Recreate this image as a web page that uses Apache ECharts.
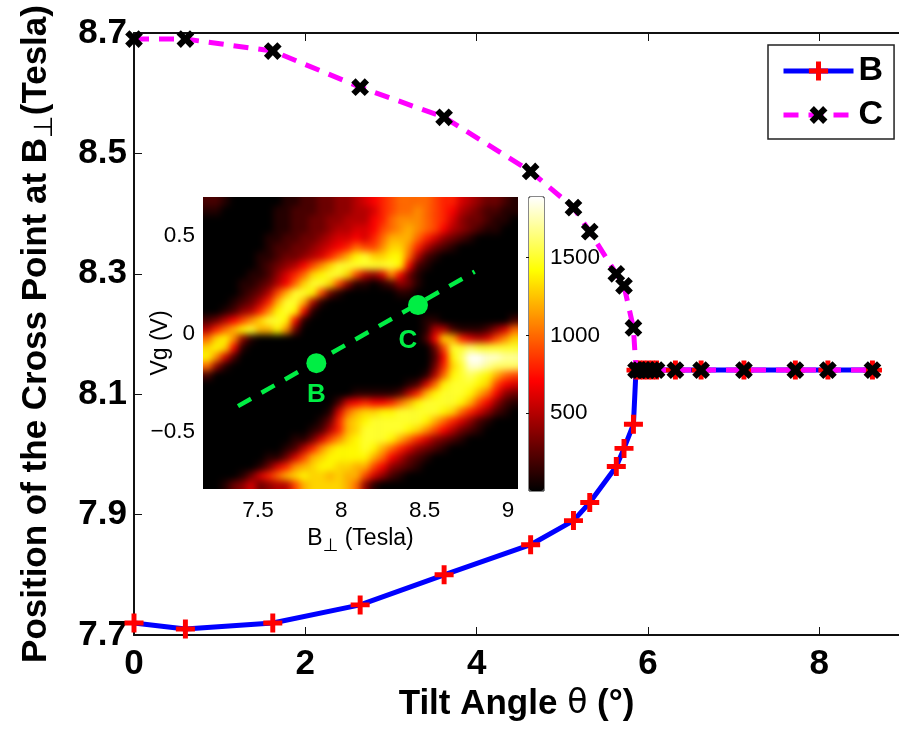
<!DOCTYPE html>
<html><head><meta charset="utf-8">
<style>html,body{margin:0;padding:0;background:#fff}
#c{position:absolute;left:0;top:0;width:899px;height:729px;z-index:2}
#clip{position:absolute;left:203px;top:197px;width:315px;height:292px;overflow:hidden;z-index:1;background:#000}
#h{position:absolute;filter:blur(3.5px)}</style>
<script src="https://cdn.jsdelivr.net/npm/echarts@6/dist/echarts.min.js"></script>
</head><body><div id="clip"><div id="h"></div></div><div id="c"></div>
<script>
const angleB=[0,0.6,1.62,2.64,3.62,4.63,5.13,5.32,5.63,5.72,5.83,5.86,5.9,5.95,6.0,6.05,6.1,6.32,6.62,7.12,7.72,8.1,8.62];
const valueB=[7.72,7.71,7.72,7.75,7.80,7.85,7.89,7.92,7.98,8.01,8.05,8.14,8.14,8.14,8.14,8.14,8.14,8.14,8.14,8.14,8.14,8.14,8.14];
const angleC=[0,0.6,1.62,2.64,3.62,4.63,5.13,5.32,5.63,5.72,5.83,5.86,5.9,5.95,6.0,6.05,6.1,6.32,6.62,7.12,7.72,8.1,8.62];
const valueC=[8.69,8.69,8.67,8.61,8.56,8.47,8.41,8.37,8.30,8.28,8.21,8.14,8.14,8.14,8.14,8.14,8.14,8.14,8.14,8.14,8.14,8.14,8.14];
const mainXTicks=[0,2,4,6,8];
const mainYTicks=[7.7,7.9,8.1,8.3,8.5,8.7];
const insetXTicks=[7.5,8,8.5,9];
const insetYTicks=[-0.5,0,0.5];
const barTicks=[500,1000,1500];
const cutLineX=[7.38,8.80];
const cutLineY=[-0.37,0.318];
const pointB=[7.85,-0.15];
const pointC=[8.46,0.147];
// inset map, read by eye, in hundreds of counts, top row first
const heatRows=[
[2,2,1,0,0,0,0,0,0,1,1,2,2,3,3,4,4,5,6,7,8,9,10,10,10,10,9,8,8,6,5,4,3,3,2,1],
[1,1,0,0,0,0,0,0,1,1,2,2,2,3,3,4,4,5,5,6,8,9,10,10,11,10,9,8,7,5,4,3,2,2,1,1],
[0,0,0,0,0,0,0,0,1,1,2,2,3,3,4,4,5,5,5,7,8,10,11,11,11,10,9,8,6,4,3,3,2,1,1,0],
[0,0,0,0,0,0,0,0,1,1,2,2,3,3,4,5,5,6,6,7,9,10,11,12,11,10,9,7,5,4,3,2,1,1,0,0],
[0,0,0,0,0,0,0,1,1,2,2,3,3,4,5,6,6,7,6,8,10,12,12,12,10,8,6,4,3,2,1,0,0,0,0,0],
[0,0,0,0,0,0,0,1,2,2,3,3,4,5,6,7,8,10,9,9,11,13,13,11,8,5,3,2,1,0,0,0,0,0,0,0],
[0,0,0,0,0,0,1,1,2,3,3,4,5,6,8,10,12,14,15,13,13,14,14,10,5,2,1,0,0,0,0,0,0,0,0,0],
[0,0,0,0,0,0,1,2,3,4,5,7,9,11,13,15,15,15,15,15,15,15,14,7,2,1,0,0,0,0,0,0,0,0,0,0],
[0,0,0,0,0,1,1,2,4,6,8,10,13,14,15,15,13,9,5,4,6,11,7,3,1,0,0,0,0,0,0,0,0,0,0,0],
[0,0,0,0,1,1,2,3,5,7,10,13,15,15,13,9,4,1,1,0,1,2,4,3,1,0,0,0,0,0,0,0,0,0,0,0],
[0,0,0,0,1,2,3,5,9,12,15,15,14,9,3,1,0,0,0,0,0,0,1,1,0,0,0,0,0,0,0,0,0,0,0,0],
[0,0,0,1,2,3,5,8,12,15,15,12,5,1,0,0,0,0,0,0,0,0,0,0,0,0,0,0,0,0,0,0,0,0,0,0],
[0,0,1,2,4,5,8,11,14,15,14,7,1,0,0,0,0,0,0,0,0,0,0,0,0,0,0,0,0,0,0,0,0,0,0,0],
[2,3,5,7,9,11,13,15,15,14,7,1,0,0,0,0,0,0,0,0,0,0,0,0,0,1,1,0,0,0,0,0,0,0,0,2],
[5,8,10,12,14,15,12,12,14,11,3,0,0,0,0,0,0,0,0,0,0,0,0,0,0,1,5,5,2,1,1,1,2,4,6,10],
[10,13,14,11,4,1,0,0,0,0,0,0,0,0,0,0,0,0,0,0,0,0,0,0,0,2,7,13,12,8,6,5,6,9,11,13],
[13,14,13,7,1,0,0,0,0,0,0,0,0,0,0,0,0,0,0,0,0,0,0,0,0,0,3,9,15,15,16,15,15,15,15,15],
[14,11,6,2,0,0,0,0,0,0,0,0,0,0,0,0,0,0,0,0,0,0,0,0,0,0,2,7,14,16,19,19,18,18,17,17],
[10,4,1,0,0,0,0,0,0,0,0,0,0,0,0,0,0,0,0,0,0,0,0,0,0,0,3,8,13,15,18,18,17,16,16,16],
[2,0,0,0,0,0,0,0,0,0,0,0,0,0,0,0,0,0,0,0,0,0,0,0,0,1,5,10,14,15,16,15,14,12,10,9],
[0,0,0,0,0,0,0,0,0,0,0,0,0,0,0,0,0,0,0,0,0,0,0,1,2,6,10,14,15,15,15,14,13,9,7,6],
[0,0,0,0,0,0,0,0,0,0,0,0,0,0,0,0,0,1,1,1,1,1,2,5,8,12,14,15,15,15,14,12,10,7,4,3],
[0,0,0,0,0,0,0,0,0,0,0,0,0,0,0,2,6,7,8,7,7,8,10,12,14,15,15,15,15,14,12,9,7,4,2,1],
[0,0,0,0,0,0,0,0,0,0,0,0,0,0,1,6,10,12,13,13,14,14,15,15,15,15,15,14,13,10,8,6,4,2,1,0],
[0,0,0,0,0,0,0,0,0,0,0,0,0,1,3,8,12,13,14,15,15,15,15,15,15,14,12,10,8,6,4,2,1,0,0,0],
[0,0,0,0,0,0,0,0,0,0,0,0,1,2,5,8,12,13,15,15,15,15,15,14,13,11,9,7,5,3,2,1,0,0,0,0],
[0,0,0,0,0,0,0,0,0,0,1,1,3,6,9,11,13,14,15,15,15,14,12,10,8,6,4,3,2,1,0,0,0,0,0,0],
[0,0,0,0,0,0,0,0,0,1,2,5,8,11,13,14,14,14,15,14,12,10,8,6,4,3,2,1,0,0,0,0,0,0,0,0],
[0,0,0,0,0,0,0,1,1,3,6,9,12,13,14,14,14,14,14,12,10,7,5,3,2,1,0,0,0,0,0,0,0,0,0,0],
[0,0,0,0,0,0,1,3,6,8,11,12,13,14,14,13,13,12,12,9,7,4,3,2,1,0,0,0,0,0,0,0,0,0,0,0],
[0,0,0,0,1,3,6,8,10,12,13,14,13,13,12,13,12,12,9,6,4,2,1,0,0,0,0,0,0,0,0,0,0,0,0,0],
[0,0,1,3,4,6,3,4,5,5,9,12,13,13,13,13,12,10,4,1,0,0,0,0,0,0,0,0,0,0,0,0,0,0,0,0]
];
const hotColors=['#000000','#550000','#aa0000','#ff0000','#ff5500','#ffaa00','#ffff00','#ffff80','#ffffff'];
const BAR_MAX=1890;
const zip=(a,b)=>a.map((v,i)=>[v,b[i]]);
const PLUS='path://M3.7,0H6.3V3.7H10V6.3H6.3V10H3.7V6.3H0V3.7H3.7Z';
const CROSS='path://M3.4,0H6.6V3.4H10V6.6H6.6V10H3.4V6.6H0V3.4H3.4Z';
const FONT='"Liberation Sans",Arial,sans-serif';
const GREEN='#00ee44';

const PAD=2, nc=heatRows[0].length, nr=heatRows.length;
const cw=315/nc, ch=292/nr;
const heatData=[];
const clampI=(v,n)=>Math.max(0,Math.min(n-1,v));
for(let i=-PAD;i<nr+PAD;i++)for(let j=-PAD;j<nc+PAD;j++)heatData.push([j+PAD,i+PAD,heatRows[clampI(i,nr)][clampI(j,nc)]*100]);
const hDom=document.getElementById('h');
hDom.style.cssText+=`left:${-PAD*cw}px;top:${-PAD*ch}px;width:${315+2*PAD*cw}px;height:${292+2*PAD*ch}px`;
const heat=echarts.init(hDom,null,{renderer:'canvas'});
heat.setOption({animation:false,grid:{left:0,top:0,right:0,bottom:0,outerBoundsMode:'none'},
 xAxis:{type:'category',data:Array.from({length:nc+2*PAD},(_,k)=>k),show:false},
 yAxis:{type:'category',data:Array.from({length:nr+2*PAD},(_,k)=>k),inverse:true,show:false},
 visualMap:{show:false,min:0,max:BAR_MAX,inRange:{color:hotColors}},
 series:[{type:'heatmap',data:heatData,silent:true,progressive:0}]});

const chart=echarts.init(document.getElementById('c'),null,{renderer:'canvas'});
const mainLine={show:true,lineStyle:{color:'#111',width:2}};
chart.setOption({
 animation:false,
 textStyle:{fontFamily:FONT},
 grid:[
  {left:134,top:33,width:765,height:602,outerBoundsMode:'none'},
  {left:203,top:197,width:315,height:292,outerBoundsMode:'none'},
  {left:529,top:197,width:15,height:294,show:true,borderColor:'#111',borderWidth:1,outerBoundsMode:'none'}
 ],
 xAxis:[
  {gridIndex:0,type:'value',min:0,max:8.93,splitLine:{show:false},
   axisLine:mainLine,axisTick:{inside:true,length:8,customValues:mainXTicks,lineStyle:{color:'#111',width:1}},
   axisLabel:{customValues:mainXTicks,color:'#000',fontSize:35,fontWeight:'bold',margin:12,fontFamily:FONT},
   name:'{a|Tilt Angle }{t|θ}{a| (°)}',nameLocation:'middle',nameGap:52,nameMoveOverlap:false,
   nameTextStyle:{rich:{a:{fontSize:35,fontWeight:'bold',color:'#000',fontFamily:FONT},t:{fontSize:33,color:'#000',fontFamily:'"DejaVu Sans"'}}}},
  {gridIndex:0,type:'value',position:'top',min:0,max:8.93,splitLine:{show:false},
   axisLine:mainLine,axisTick:{inside:true,length:8,customValues:mainXTicks,lineStyle:{color:'#111',width:1}},axisLabel:{show:false}},
  {gridIndex:1,type:'value',min:7.17,max:9.06,splitLine:{show:false},axisLine:{show:false},
   axisTick:{show:false},
   axisLabel:{customValues:insetXTicks,color:'#000',fontSize:22.5,margin:10,fontFamily:FONT},
   name:'{a|B}{s|⊥}{a| (Tesla)}',nameLocation:'middle',nameGap:34,nameMoveOverlap:false,
   nameTextStyle:{rich:{a:{fontSize:23,color:'#000',fontFamily:FONT},s:{fontSize:18,color:'#000',fontFamily:'"DejaVu Sans"',verticalAlign:'bottom',padding:[14,0,0,0]}}}},
  {gridIndex:2,type:'value',min:0,max:1,show:false}
 ],
 yAxis:[
  {gridIndex:0,type:'value',min:7.7,max:8.7,splitLine:{show:false},
   axisLine:mainLine,axisTick:{inside:true,length:8,customValues:mainYTicks,lineStyle:{color:'#111',width:1}},
   axisLabel:{customValues:mainYTicks,color:'#000',fontSize:35,fontWeight:'bold',margin:7,padding:[8,0,0,0],fontFamily:FONT,formatter:v=>v.toFixed(1)},
   name:'{a|Position of the Cross Point at B}{s|⊥}{a|(Tesla)}',nameLocation:'middle',nameGap:76,nameMoveOverlap:false,
   nameTextStyle:{rich:{a:{fontSize:35,fontWeight:'bold',color:'#000',fontFamily:FONT},s:{fontSize:26,color:'#000',fontFamily:'"DejaVu Sans"',verticalAlign:'bottom',padding:[18,0,0,0]}}}},
  {gridIndex:1,type:'value',min:-0.794,max:0.70,splitLine:{show:false},axisLine:{show:false},axisTick:{show:false},
   axisLabel:{customValues:insetYTicks,color:'#000',fontSize:22.5,margin:8,padding:[5,0,0,0],fontFamily:FONT,formatter:v=>v<0?'−'+Math.abs(v):String(v)},
   name:'Vg (V)',nameLocation:'middle',nameGap:31,nameMoveOverlap:false,nameTextStyle:{fontSize:23,color:'#000',fontFamily:FONT}},
  {gridIndex:2,type:'value',position:'right',min:0,max:BAR_MAX,splitLine:{show:false},axisLine:{show:false},
   axisTick:{inside:true,length:3,customValues:barTicks,lineStyle:{color:'#111',width:1}},
   axisLabel:{customValues:barTicks,color:'#000',fontSize:22.5,margin:6,padding:[6,0,0,0],fontFamily:FONT,formatter:v=>String(v)}}
 ],
 visualMap:{type:'continuous',seriesIndex:4,min:0,max:BAR_MAX,calculable:false,hoverLink:false,left:529,top:197,itemWidth:15,itemHeight:294,padding:0,
  inRange:{color:hotColors},
  textStyle:{color:'transparent',fontSize:1}},
 legend:{left:768,top:45,orient:'vertical',padding:[9,11,7,13],itemWidth:70,itemHeight:24,itemGap:10,
  backgroundColor:'#fff',borderColor:'#222',borderWidth:1.5,lineStyle:{width:5},
  textStyle:{fontSize:34,fontWeight:'bold',color:'#000',fontFamily:FONT},
  data:['B','C']},
 series:[
  {name:'B',type:'line',xAxisIndex:0,yAxisIndex:0,data:zip(angleB,valueB),clip:false,z:3,
   lineStyle:{color:'#0000ff',width:5},symbol:PLUS,symbolSize:19,itemStyle:{color:'#ff0000'},showSymbol:true},
  {name:'C',type:'line',xAxisIndex:0,yAxisIndex:0,data:zip(angleC,valueC),clip:false,z:4,
   lineStyle:{color:'#ff00ff',width:5,type:[15,10]},symbol:CROSS,symbolSize:19,symbolRotate:45,itemStyle:{color:'#000'},showSymbol:true},
  {name:'cut',type:'line',xAxisIndex:2,yAxisIndex:1,data:zip(cutLineX,cutLineY),symbol:'none',z:6,silent:true,
   lineStyle:{color:GREEN,width:4.5,type:[15,12]}},
  {name:'points',type:'scatter',xAxisIndex:2,yAxisIndex:1,symbolSize:20,z:7,silent:true,
   itemStyle:{color:GREEN,opacity:1},
   data:[{value:pointB,label:{show:true,formatter:'B',offset:[0,32]}},{value:pointC,label:{show:true,formatter:'C',offset:[-10,36]}}],
   label:{position:'inside',color:GREEN,fontSize:26,fontWeight:'bold',fontFamily:FONT}},
  {name:'barAnchor',type:'line',xAxisIndex:3,yAxisIndex:2,data:[],silent:true}
 ]
});
</script></body></html>
